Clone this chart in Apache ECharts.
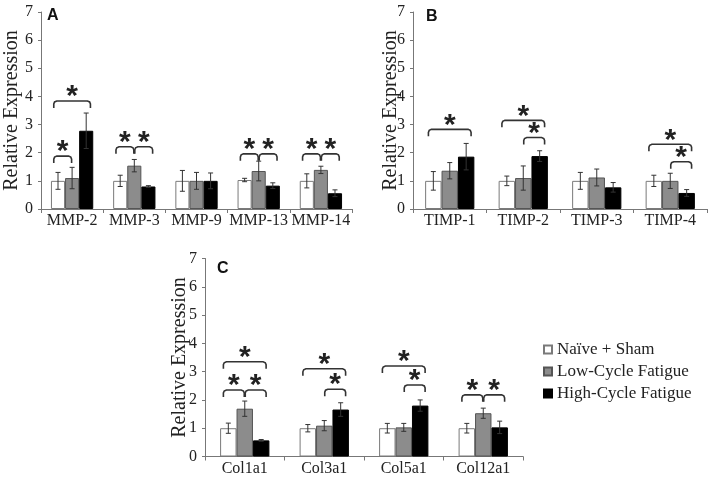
<!DOCTYPE html>
<html><head><meta charset="utf-8">
<script src="https://cdn.jsdelivr.net/npm/echarts@6/dist/echarts.min.js"></script>
<style>html,body{margin:0;padding:0;background:#fff}#c{width:711px;height:477px}</style>
</head><body><div id="c"></div>
<script>
// ---- data ----
const seriesNames = ['Naïve + Sham', 'Low-Cycle Fatigue', 'High-Cycle Fatigue'];

const catsA = ['MMP-2', 'MMP-3', 'MMP-9', 'MMP-13', 'MMP-14'];
const naiveA = [1.0, 1.0, 1.0, 1.03, 1.0];
const naiveErrA = [0.3, 0.2, 0.37, 0.06, 0.25];
const lowA = [1.1, 1.54, 1.0, 1.35, 1.39];
const lowErrA = [0.38, 0.22, 0.3, 0.35, 0.13];
const highA = [2.78, 0.8, 1.0, 0.83, 0.56];
const highErrA = [0.63, 0.03, 0.28, 0.1, 0.12];
const bracketsA = [[0, 0, 1, 1.88], [0, 0, 2, 3.84], [1, 0, 1, 2.21], [1, 1, 2, 2.21], [3, 0, 1, 1.96], [3, 1, 2, 1.96], [4, 0, 1, 1.96], [4, 1, 2, 1.96]];

const catsB = ['TIMP-1', 'TIMP-2', 'TIMP-3', 'TIMP-4'];
const naiveB = [1.0, 1.0, 1.0, 1.0];
const naiveErrB = [0.33, 0.17, 0.3, 0.2];
const lowB = [1.36, 1.1, 1.12, 1.0];
const lowErrB = [0.29, 0.43, 0.3, 0.27];
const highB = [1.86, 1.88, 0.77, 0.57];
const highErrB = [0.47, 0.19, 0.17, 0.12];
const bracketsB = [[0, 0, 2, 2.83], [1, 0, 2, 3.15], [1, 1, 2, 2.54], [3, 0, 2, 2.3], [3, 1, 2, 1.68]];

const catsC = ['Col1a1', 'Col3a1', 'Col5a1', 'Col12a1'];
const naiveC = [1.0, 1.0, 1.0, 1.0];
const naiveErrC = [0.18, 0.13, 0.17, 0.17];
const lowC = [1.69, 1.09, 1.03, 1.53];
const lowErrC = [0.27, 0.18, 0.14, 0.18];
const highC = [0.57, 1.66, 1.8, 1.03];
const highErrC = [0.03, 0.24, 0.2, 0.22];
const bracketsC = [[0, 0, 1, 2.35], [0, 1, 2, 2.35], [0, 0, 2, 3.35], [1, 0, 2, 3.1], [1, 1, 2, 2.38], [2, 0, 2, 3.2], [2, 1, 2, 2.53], [3, 0, 1, 2.18], [3, 1, 2, 2.18]];

const yTicks = [0, 1, 2, 3, 4, 5, 6, 7];

// ---- styles ----
const serif = '"Liberation Serif", "Times New Roman", serif';
const barStyles = [
  {color: '#ffffff', borderColor: '#7a7a7a', borderWidth: 1},
  {color: '#8c8c8c', borderColor: '#555555', borderWidth: 1},
  {color: '#000000', borderColor: '#000000', borderWidth: 1}
];
const panels = [
  {cats: catsA, means: [naiveA, lowA, highA], errs: [naiveErrA, lowErrA, highErrA], brackets: bracketsA, gap: 0.32,
   grid: {left: 41, top: 12, width: 311, height: 197}, nameGap: 19, letter: 'A', lx: 53, ly: 16},
  {cats: catsB, means: [naiveB, lowB, highB], errs: [naiveErrB, lowErrB, highErrB], brackets: bracketsB, gap: 0.33,
   grid: {left: 413, top: 12, width: 294, height: 197}, nameGap: 12, letter: 'B', lx: 432, ly: 17},
  {cats: catsC, means: [naiveC, lowC, highC], errs: [naiveErrC, lowErrC, highErrC], brackets: bracketsC, gap: 0.38,
   grid: {left: 205, top: 258.5, width: 318, height: 198}, nameGap: 15, letter: 'C', lx: 223, ly: 269}
];

function barX(api, cat, s, gap) {
  const c = api.coord([cat, 0]);
  const band = api.size([1, 0])[0];
  const bw = band * (1 - gap) / 3;
  return {x: c[0] + (s - 1) * bw, bw: bw};
}

function errRender(gap) {
  return function (params, api) {
    const cat = api.value(0), s = api.value(1), m = api.value(2), e = api.value(3);
    const p = barX(api, cat, s, gap);
    const yt = api.coord([cat, m + e])[1], yb = api.coord([cat, m - e])[1];
    const cap = 2.5;
    const st = {stroke: '#333', lineWidth: 1};
    return {type: 'group', children: [
      {type: 'line', shape: {x1: p.x, y1: yt, x2: p.x, y2: yb}, style: st},
      {type: 'line', shape: {x1: p.x - cap, y1: yt, x2: p.x + cap, y2: yt}, style: st},
      {type: 'line', shape: {x1: p.x - cap, y1: yb, x2: p.x + cap, y2: yb}, style: st}
    ]};
  };
}

function bracketRender(gap) {
  return function (params, api) {
    const cat = api.value(0), f = api.value(1), t = api.value(2), yv = api.value(3);
    const a = barX(api, cat, f, gap), b = barX(api, cat, t, gap);
    let x1 = a.x - 0.3 * a.bw, x2 = b.x + 0.3 * b.bw;
    if (f === 1) x1 = a.x + 0.5;
    if (t === 1) x2 = b.x - 0.5;
    const y = api.coord([cat, yv])[1];
    const leg = 7;
    const pts = [[x1, y + leg], [x1, y + 3], [x1 + 0.8, y + 1], [x1 + 3, y], [x2 - 3, y], [x2 - 0.8, y + 1], [x2, y + 3], [x2, y + leg]];
    return {type: 'group', children: [
      {type: 'polyline', shape: {points: pts}, style: {stroke: '#333', lineWidth: 1.6, fill: null}},
      {type: 'text', x: (x1 + x2) / 2, y: y - 4, style: {text: '*', fill: '#222', font: 'bold 30px "Liberation Sans"', textAlign: 'center', textVerticalAlign: 'middle'}}
    ]};
  };
}

const option = {
  animation: false,
  backgroundColor: '#fff',
  legend: {
    data: seriesNames, orient: 'vertical', left: 538, top: 336,
    itemWidth: 8, itemHeight: 8, itemGap: 5, icon: 'rect',
    textStyle: {fontFamily: serif, fontSize: 17, color: '#222'},
    selectedMode: false
  },
  graphic: panels.map(p => ({type: 'text', left: p.lx - 6, top: p.ly - 8,
    style: {text: p.letter, font: 'bold 16px "Liberation Sans"', fill: '#111'}})),
  grid: panels.map(p => Object.assign({containLabel: false}, p.grid)),
  xAxis: panels.map((p, i) => ({
    type: 'category', gridIndex: i, data: p.cats,
    axisLine: {lineStyle: {color: '#777', width: 1}},
    axisTick: {show: true, length: 4, lineStyle: {color: '#777'}},
    axisLabel: {fontFamily: serif, fontSize: 16, color: '#222', margin: 4, interval: 0}
  })),
  yAxis: panels.map((p, i) => ({
    type: 'value', gridIndex: i, min: yTicks[0], max: yTicks[yTicks.length - 1], interval: 1,
    name: 'Relative Expression', nameLocation: 'middle', nameGap: p.nameGap, nameMoveOverlap: false,
    nameTextStyle: {fontFamily: serif, fontSize: 20, color: '#222'},
    axisLine: {show: true, lineStyle: {color: '#777', width: 1}},
    axisTick: {show: true, length: 3, lineStyle: {color: '#777'}},
    axisLabel: {fontFamily: serif, fontSize: 16, color: '#222', margin: 8},
    splitLine: {show: false}
  })),
  series: []
};

panels.forEach((p, i) => {
  seriesNames.forEach((n, s) => {
    option.series.push({
      type: 'bar', name: n, xAxisIndex: i, yAxisIndex: i, data: p.means[s],
      barGap: '0%', barCategoryGap: (p.gap * 100) + '%',
      itemStyle: barStyles[s], silent: true
    });
  });
  const errData = [];
  p.cats.forEach((c, k) => { for (let s = 0; s < 3; s++) errData.push([k, s, p.means[s][k], p.errs[s][k]]); });
  option.series.push({type: 'custom', xAxisIndex: i, yAxisIndex: i, renderItem: errRender(p.gap),
    data: errData, encode: {x: 0, y: 2}, z: 5, silent: true});
  option.series.push({type: 'custom', xAxisIndex: i, yAxisIndex: i, renderItem: bracketRender(p.gap),
    data: p.brackets, encode: {x: 0, y: 3}, z: 6, silent: true});
});

const chart = echarts.init(document.getElementById('c'), null, {renderer: 'canvas'});
chart.setOption(option);
</script></body></html>
